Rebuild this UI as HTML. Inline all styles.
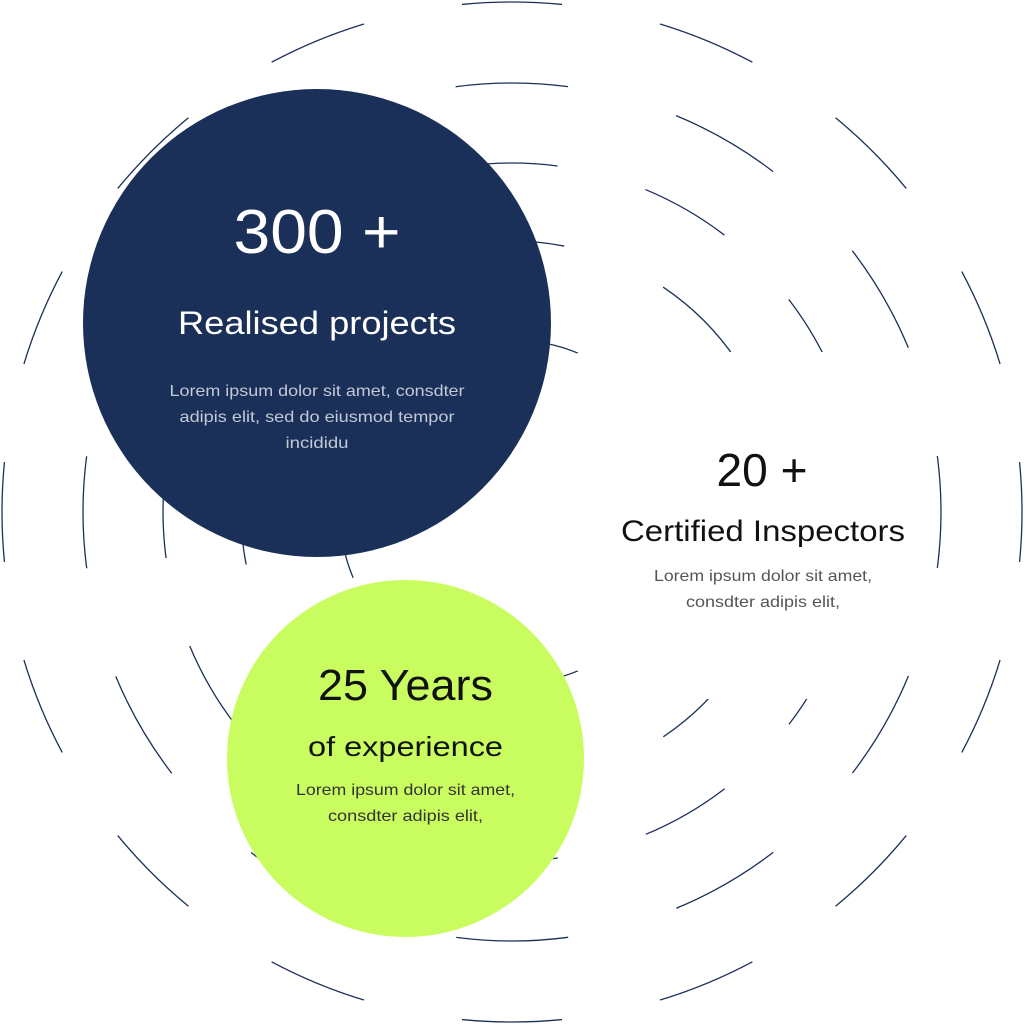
<!DOCTYPE html>
<html><head><meta charset="utf-8"><style>
html,body{margin:0;padding:0;background:#fff;}
svg{display:block;}
text{font-family:"Liberation Sans",sans-serif;}
</style></head><body>
<svg width="1025" height="1025" viewBox="0 0 1025 1025" xmlns="http://www.w3.org/2000/svg">
<g fill="none" stroke="#1a3058" stroke-width="1.3" transform="rotate(-90 512 512)">
<circle cx="512" cy="512" r="510" pathLength="360" stroke-dasharray="11.25 11.25" stroke-dashoffset="5.625"/>
<circle cx="512" cy="512" r="429" pathLength="360" stroke-dasharray="15 15" stroke-dashoffset="7.5"/>
<circle cx="512" cy="512" r="349" pathLength="360" stroke-dasharray="15 15" stroke-dashoffset="7.5"/>
<circle cx="512" cy="512" r="271" pathLength="360" stroke-dasharray="22.2 22.8" stroke-dashoffset="11.1"/>
<circle cx="512" cy="512" r="172" pathLength="360" stroke-dasharray="45 45" stroke-dashoffset="22.5"/>
</g>
<rect x="592" y="352" width="290" height="347" fill="#fff"/>
<circle cx="317" cy="323" r="234" fill="#1a3058"/>
<circle cx="405.5" cy="758.5" r="178.5" fill="#c9fd5f"/>
<g text-anchor="middle">
<text x="317" y="253" font-size="62" fill="#fff" textLength="167" lengthAdjust="spacingAndGlyphs">300 +</text>
<text x="317" y="334" font-size="32" fill="#fff" textLength="278" lengthAdjust="spacingAndGlyphs">Realised projects</text>
<text x="317" y="396" font-size="16" fill="#c3c9d6" textLength="295" lengthAdjust="spacingAndGlyphs">Lorem ipsum dolor sit amet, consdter</text>
<text x="317" y="422" font-size="16" fill="#c3c9d6" textLength="275" lengthAdjust="spacingAndGlyphs">adipis elit, sed do eiusmod tempor</text>
<text x="317" y="448" font-size="16" fill="#c3c9d6" textLength="63" lengthAdjust="spacingAndGlyphs">incididu</text>

<text x="762" y="486" font-size="46" fill="#111" textLength="91" lengthAdjust="spacingAndGlyphs">20 +</text>
<text x="763" y="541" font-size="30" fill="#111" textLength="284" lengthAdjust="spacingAndGlyphs">Certified Inspectors</text>
<text x="763" y="581" font-size="16" fill="#555" textLength="218" lengthAdjust="spacingAndGlyphs">Lorem ipsum dolor sit amet,</text>
<text x="763" y="607" font-size="16" fill="#555" textLength="154" lengthAdjust="spacingAndGlyphs">consdter adipis elit,</text>

<text x="405.5" y="700" font-size="44" fill="#111" textLength="175" lengthAdjust="spacingAndGlyphs">25 Years</text>
<text x="405.5" y="756" font-size="28" fill="#111" textLength="195" lengthAdjust="spacingAndGlyphs">of experience</text>
<text x="405.5" y="795" font-size="16" fill="#333" textLength="219" lengthAdjust="spacingAndGlyphs">Lorem ipsum dolor sit amet,</text>
<text x="405.5" y="821" font-size="16" fill="#333" textLength="155" lengthAdjust="spacingAndGlyphs">consdter adipis elit,</text>
</g>
</svg>
</body></html>
